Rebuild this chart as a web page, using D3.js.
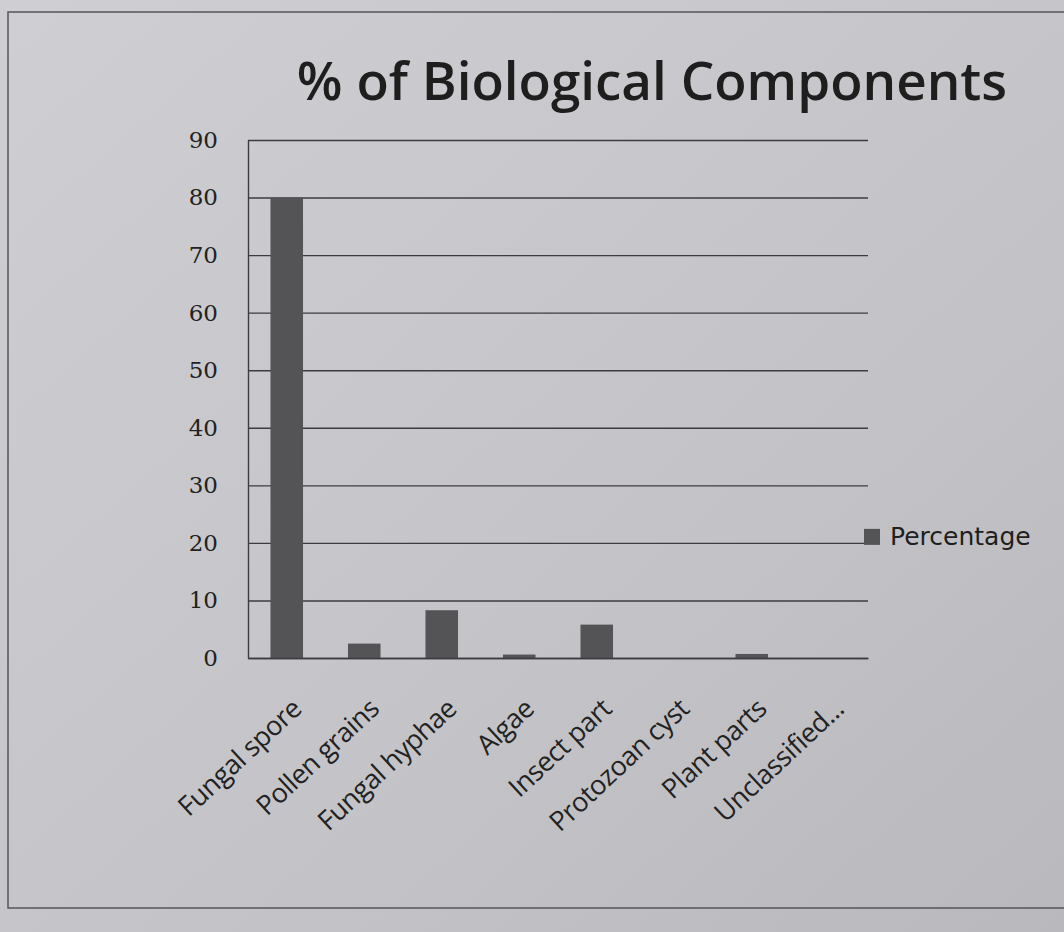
<!DOCTYPE html>
<html>
<head>
<meta charset="utf-8">
<script src="https://cdn.jsdelivr.net/npm/d3@7"></script>
<style>
  body { margin: 0; background: #c6c6ca; }
  svg { display: block; }
</style>
</head>
<body>
<svg id="chart"></svg>
<script>
const width = 1064, height = 932;

// data
const categories = ["Fungal spore", "Pollen grains", "Fungal hyphae", "Algae",
                    "Insect part", "Protozoan cyst", "Plant parts", "Unclassified..."];
const percentage = [80, 2.5, 8.3, 0.6, 5.8, 0, 0.7, 0];
const yTicks = [0, 10, 20, 30, 40, 50, 60, 70, 80, 90];

const margin = {top: 140, right: 196, bottom: 274, left: 248};
const INNER_WIDTH = width - margin.left - margin.right;
const INNER_HEIGHT = height - margin.top - margin.bottom;

let svg = d3.select("#chart")
    .attr("width", width)
    .attr("height", height);

// paper
let grad = svg.append("defs").append("linearGradient")
    .attr("id", "paper").attr("x1", "0").attr("y1", "0").attr("x2", "1").attr("y2", "1");
grad.append("stop").attr("offset", "0").attr("stop-color", "#cfcfd3");
grad.append("stop").attr("offset", "0.6").attr("stop-color", "#c4c4c8");
grad.append("stop").attr("offset", "1").attr("stop-color", "#b9b9bd");
svg.append("rect").attr("width", width).attr("height", height).attr("fill", "url(#paper)");

// frame of the chart box
svg.append("rect")
    .attr("x", 8).attr("y", 12)
    .attr("width", width + 20).attr("height", 896)
    .attr("fill", "none")
    .attr("stroke", "#555")
    .attr("stroke-width", 1.5);

let g = svg.append("g")
    .attr("transform", `translate(${margin.left},${margin.top})`);

let x = d3.scaleBand().domain(categories).range([0, INNER_WIDTH]).paddingInner(0.58).paddingOuter(0.29);
let y = d3.scaleLinear().domain([0, 90]).range([INNER_HEIGHT, 0]);

// grid
let grid = g.append("g")
    .call(d3.axisLeft(y).tickValues(yTicks).tickSize(-INNER_WIDTH).tickFormat(""));
grid.select(".domain").remove();
grid.selectAll("line").style("stroke", "#3c3c40").style("stroke-width", 1.4);

// y axis
let yAxis = g.append("g")
    .call(d3.axisLeft(y).tickValues(yTicks).tickSize(0).tickPadding(30));
yAxis.select(".domain").attr("stroke", "#3c3c40").attr("stroke-width", 1.4);
yAxis.selectAll("text")
    .style("font-family", "'DejaVu Serif', serif")
    .style("font-size", "23px")
    .style("fill", "#222");

// bars
g.selectAll("rect.bar")
    .data(categories.map((c, i) => ({cat: c, val: percentage[i]})))
    .enter()
    .append("rect")
    .attr("class", "bar")
    .attr("x", d => x(d.cat))
    .attr("y", d => y(d.val))
    .attr("width", x.bandwidth())
    .attr("height", d => INNER_HEIGHT - y(d.val))
    .style("fill", "#545457");

// x axis
let xAxis = g.append("g")
    .attr("transform", `translate(0,${INNER_HEIGHT})`)
    .call(d3.axisBottom(x).tickSize(0));
xAxis.select(".domain").attr("stroke", "#3c3c40").attr("stroke-width", 1.4);
xAxis.selectAll("text")
    .style("font-family", "'Open Sans', sans-serif")
    .style("font-size", "27px")
    .style("letter-spacing", "-0.5px")
    .style("fill", "#222")
    .style("text-anchor", "end")
    .attr("x", 0)
    .attr("y", 0)
    .attr("dy", "0.35em")
    .attr("transform", "translate(10,46) rotate(-43)");

// title
svg.append("text")
    .attr("x", 652)
    .attr("y", 100)
    .style("text-anchor", "middle")
    .style("font-family", "'Open Sans', sans-serif")
    .style("font-size", "53px")
    .style("font-weight", "600")
    .style("fill", "#1e1e1e")
    .text("% of Biological Components");

// legend
let legend = svg.append("g").attr("transform", `translate(864,${margin.top + y(20) - 14})`);
legend.append("rect").attr("width", 16).attr("height", 16).style("fill", "#545457");
legend.append("text")
    .attr("x", 26).attr("y", 16)
    .style("font-family", "'DejaVu Sans', sans-serif")
    .style("font-size", "25px")
    .style("fill", "#1e1e1e")
    .text("Percentage");
</script>
</body>
</html>
